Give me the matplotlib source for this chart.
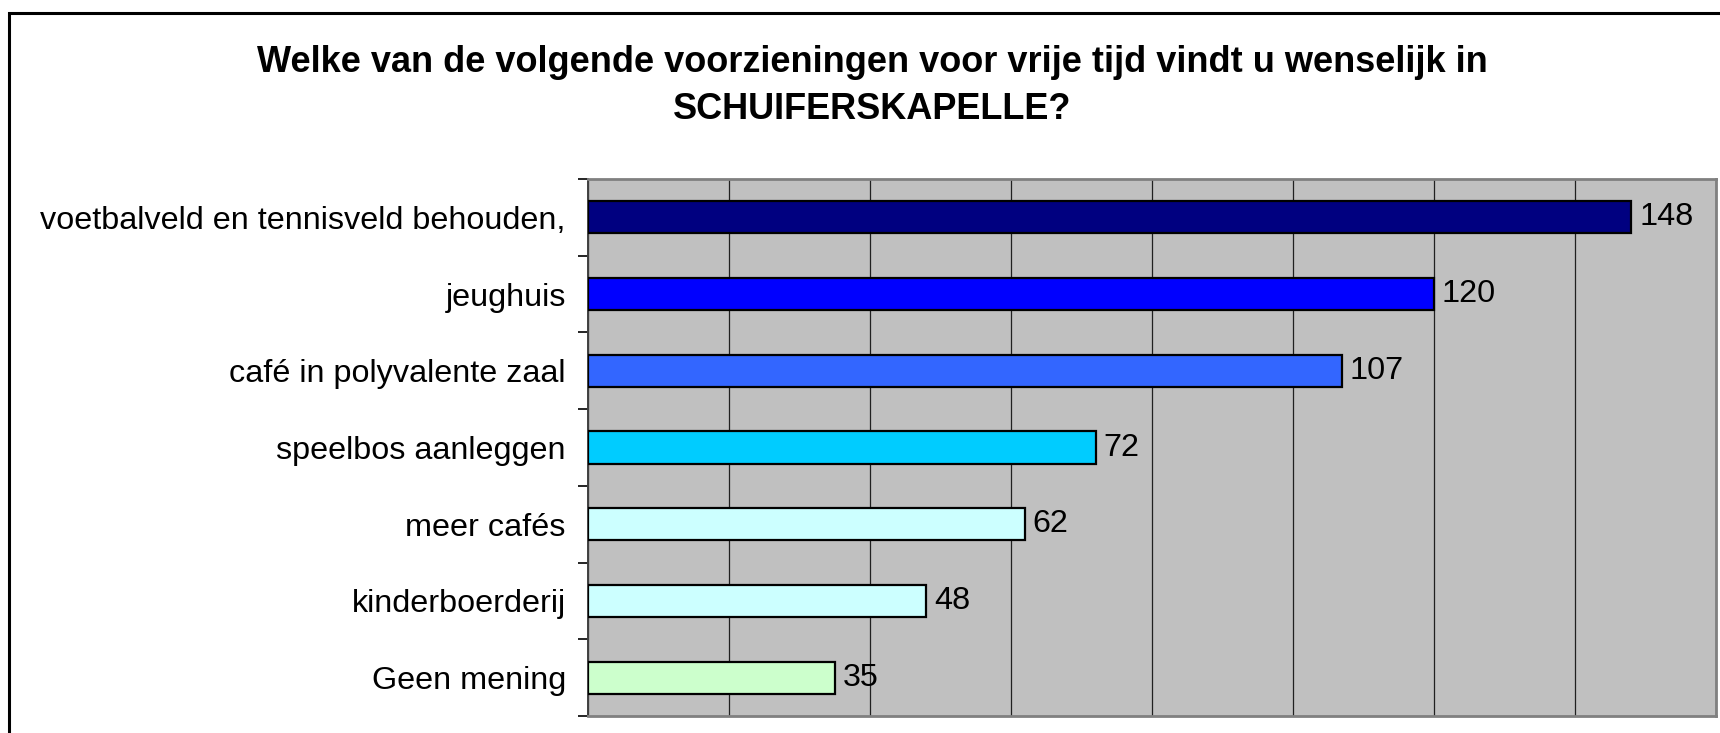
import matplotlib
matplotlib.use("Agg")
import matplotlib.pyplot as plt
from matplotlib.patches import Rectangle
from matplotlib.ticker import MultipleLocator, FixedLocator

categories = ["voetbalveld en tennisveld behouden,", "jeughuis", "café in polyvalente zaal",
              "speelbos aanleggen", "meer cafés", "kinderboerderij", "Geen mening"]
values = [148, 120, 107, 72, 62, 48, 35]
colors = ["#000080", "#0000FF", "#3366FF", "#00CCFF", "#CCFFFF", "#CCFFFF", "#CCFFCC"]
title = "Welke van de volgende voorzieningen voor vrije tijd vindt u wenselijk in\nSCHUIFERSKAPELLE?"

plt.rcParams['font.family'] = ['Liberation Sans', 'DejaVu Sans']

W, H = 1720, 733
fig = plt.figure(figsize=(W / 100, H / 100), dpi=100)
fig.patch.set_facecolor("white")

# outer chart border (top and left visible, rest cropped)
fig.add_artist(Rectangle((9 / W, -0.1), 1.2, 1 - 13 / H + 0.1, transform=fig.transFigure,
                         fill=False, edgecolor="black", linewidth=2.2, clip_on=False))

left, right, top, bottom = 588, 1716, 179, 716
ax = fig.add_axes([left / W, 1 - bottom / H, (right - left) / W, (bottom - top) / H])
ax.set_facecolor("#C0C0C0")

n = len(categories)
ypos = list(range(n))
ax.barh(ypos, values, height=0.42, color=colors, edgecolor="black", linewidth=1.6, zorder=3)
ax.set_xlim(0, 160)
ax.set_ylim(n - 0.5, -0.5)

ax.xaxis.set_major_locator(MultipleLocator(20))
ax.grid(axis="x", color="#202020", linewidth=0.9, zorder=1)
ax.tick_params(axis="x", bottom=False, labelbottom=False)

ax.yaxis.set_major_locator(FixedLocator(ypos))
ax.set_yticklabels(categories, fontsize=23.3)
ax.yaxis.set_minor_locator(FixedLocator([i - 0.5 for i in range(n + 1)]))
ax.tick_params(axis="y", which="major", length=0, pad=16)
ax.tick_params(axis="y", which="minor", length=7, width=1.2, color="black")

for s in ["top", "right", "bottom"]:
    ax.spines[s].set_color("#808080")
    ax.spines[s].set_linewidth(2.0)
ax.spines["left"].set_color("#404040")
ax.spines["left"].set_linewidth(1.4)

for y, v in zip(ypos, values):
    ax.annotate(str(v), (v, y), xytext=(5.5, 0), textcoords="offset points",
                va="center", ha="left", fontsize=23.3, zorder=4)

fig.text(872 / W, 1 - 86 / H, title, ha="center", va="center", fontsize=26,
         fontweight="bold", linespacing=1.45)

fig.savefig("out.png", dpi=100, facecolor="white")
